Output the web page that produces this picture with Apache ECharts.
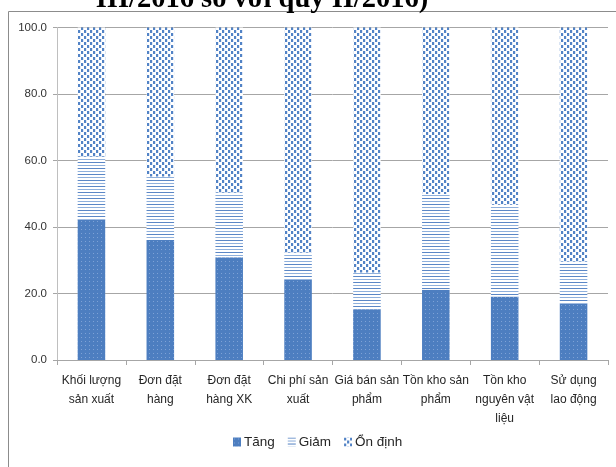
<!DOCTYPE html>
<html>
<head>
<meta charset="utf-8">
<script src="https://cdn.jsdelivr.net/npm/echarts@6/dist/echarts.min.js"></script>
<style>
  html, body { margin: 0; padding: 0; background: #fff; }
  #chart { width: 616px; height: 467px; }
</style>
</head>
<body>
<div id="chart"></div>
<script>
// Survey categories (x axis)
const categories = [
  'Khối lượng\nsản xuất', 'Đơn đặt\nhàng', 'Đơn đặt\nhàng XK', 'Chi phí sản\nxuất',
  'Giá bán sản\nphẩm', 'Tồn kho sản\nphẩm', 'Tồn kho\nnguyên vật\nliệu', 'Sử dụng\nlao động'
];
// Share of responses (%)
const tang    = [42.2, 36.1, 30.9, 24.1, 15.3, 21.1, 19.1, 16.9];
const giam    = [19.0, 19.1, 19.5, 8.2, 11.0, 28.8, 27.6, 12.7];
const onDinh  = [38.8, 44.8, 49.6, 67.7, 73.7, 50.1, 53.3, 70.4];
// Value axis ticks
const yTicks = [0, 20, 40, 60, 80, 100];

// Fill patterns drawn on small tiles
function tile(w, h, draw) {
  const c = document.createElement('canvas');
  c.width = w; c.height = h;
  draw(c.getContext('2d'));
  return { image: c, repeat: 'repeat' };
}
const patTang = tile(4, 4, g => {
  g.fillStyle = '#4d7ec0'; g.fillRect(0, 0, 4, 4);
  g.fillStyle = '#7ea2d6'; g.fillRect(1, 1, 1, 1);
});
const patGiam = tile(4, 6, g => {
  g.fillStyle = '#ffffff'; g.fillRect(0, 0, 4, 6);
  g.fillStyle = '#5b87c6'; g.fillRect(0, 0, 4, 1);
  g.fillStyle = '#8fb0dc'; g.fillRect(0, 3, 4, 1);
});
const patOn = tile(6, 6, g => {
  g.fillStyle = '#ffffff'; g.fillRect(0, 0, 6, 6);
  g.fillStyle = '#5283c6'; g.fillRect(0, 0, 3, 3); g.fillRect(3, 3, 3, 3);
  g.fillStyle = '#dfe8f5'; g.fillRect(2, 0, 1, 3); g.fillRect(5, 3, 1, 3);
});

const chart = echarts.init(document.getElementById('chart'), null, { renderer: 'canvas' });
const font = 'Liberation Sans, Arial, sans-serif';

function bar(name, data, color) {
  return {
    name, type: 'bar', stack: 'total', data, barWidth: '40%',
    itemStyle: { color }, emphasis: { disabled: true }
  };
}

chart.setOption({
  animation: false,
  graphic: [
    {
      type: 'rect', shape: { x: 8.5, y: 11.5, width: 620, height: 470 },
      style: { fill: 'none', stroke: '#8c8c8c', lineWidth: 1 }, silent: true
    },
    {
      type: 'text', x: 262, y: 0,
      style: {
        text: 'III/2016 so với quý II/2016)', fill: '#000',
        font: 'bold 28.5px "Liberation Serif", "Times New Roman", serif',
        textAlign: 'center', textVerticalAlign: 'middle'
      }, silent: true
    }
  ],
  grid: { left: 57, right: 8, top: 27.5, bottom: 107, containLabel: false },
  legend: {
    bottom: 13, left: 228, itemWidth: 8, itemHeight: 9, itemGap: 13,
    icon: 'rect',
    textStyle: { fontFamily: font, fontSize: 13.5, color: '#262626', padding: [0, 0, 0, -2] },
    data: ['Tăng', 'Giảm', 'Ổn định']
  },
  xAxis: {
    type: 'category', data: categories,
    axisLine: { lineStyle: { color: '#a6a6a6' } },
    axisTick: { show: true, alignWithLabel: false, length: 5, lineStyle: { color: '#a6a6a6' } },
    axisLabel: { interval: 0, fontFamily: font, fontSize: 12, color: '#262626', lineHeight: 19, margin: 11 }
  },
  yAxis: {
    type: 'value', min: yTicks[0], max: yTicks[yTicks.length - 1], interval: 20,
    axisLine: { show: true, lineStyle: { color: '#bfbfbf' } },
    axisTick: { show: true, length: 4, lineStyle: { color: '#a6a6a6' } },
    splitLine: { lineStyle: { color: '#a6a6a6' } },
    axisLabel: { fontFamily: font, fontSize: 11.5, color: '#333333', margin: 10,
      formatter: v => v.toFixed(1) }
  },
  series: [
    bar('Tăng', tang, patTang),
    bar('Giảm', giam, patGiam),
    bar('Ổn định', onDinh, patOn)
  ]
});
</script>
</body>
</html>
